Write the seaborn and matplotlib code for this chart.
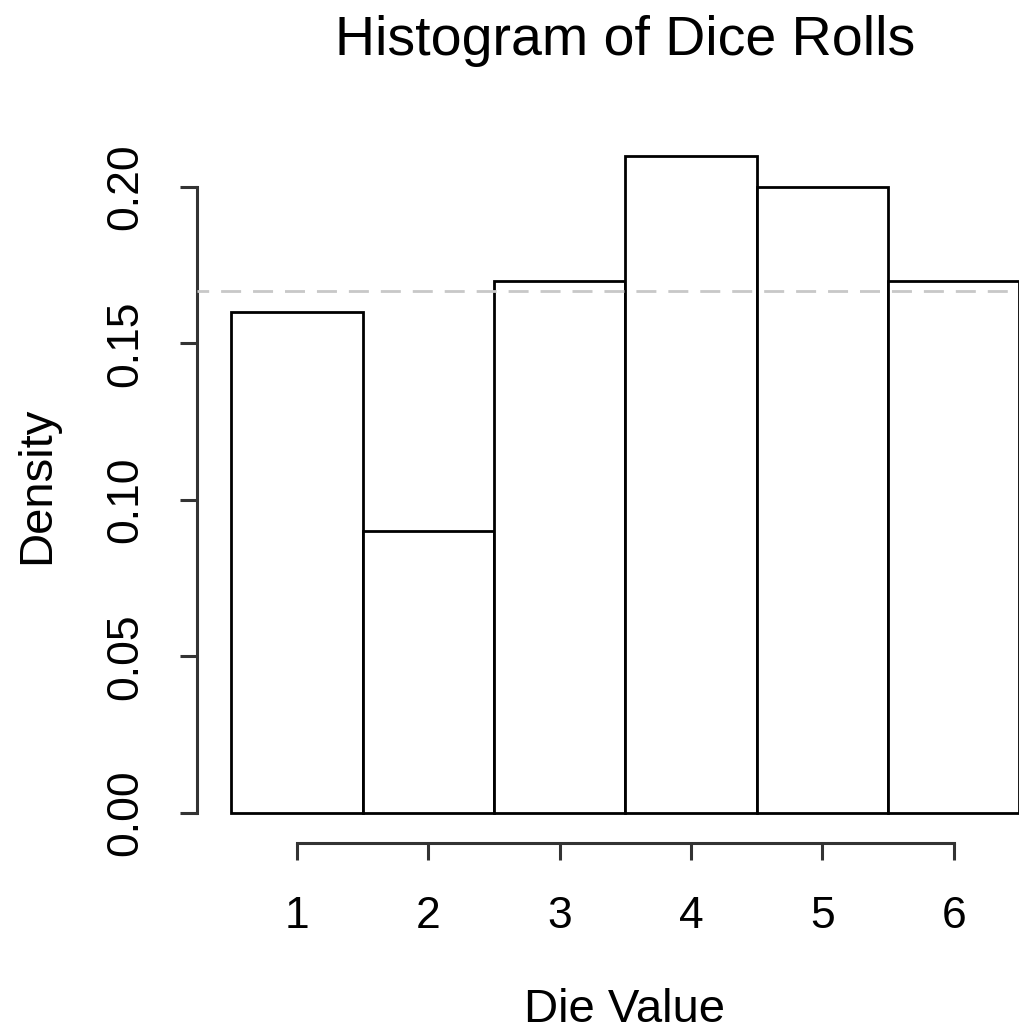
import matplotlib
matplotlib.use("Agg")
import matplotlib.pyplot as plt
import seaborn as sns

# dice roll counts (100 rolls)
die_values = [1, 2, 3, 4, 5, 6]
roll_counts = [16, 9, 17, 21, 20, 17]
x_ticks = [1, 2, 3, 4, 5, 6]
y_ticks = [0.00, 0.05, 0.10, 0.15, 0.20]
y_tick_labels = ["0.00", "0.05", "0.10", "0.15", "0.20"]
expected_density = 1 / 6

sns.set_style("white")
plt.rcParams["font.family"] = ["Liberation Sans", "DejaVu Sans"]
plt.rcParams["text.color"] = "black"

W, H = 1019, 1032
fig = plt.figure(figsize=(W / 100, H / 100), dpi=100)
# axes box in pixels: left 197, right 1051, top 129, bottom 843
ax = fig.add_axes([197 / W, (H - 843) / H, 854 / W, 714 / H])

sns.histplot(x=die_values, weights=roll_counts, discrete=True, stat="density",
             color="white", edgecolor="black", linewidth=2.0, alpha=1, ax=ax)
ax.axhline(expected_density, color="#c8c8c8", ls=(3, (7.2, 4.3)), lw=2, zorder=5)

ax.set_xlim(0.239, 6.74)
ax.set_ylim(-0.0096, 0.2185)

for side in ["top", "right"]:
    ax.spines[side].set_visible(False)
ax.spines["left"].set_bounds(0, 0.2)
ax.spines["bottom"].set_bounds(1, 6)
for side in ["left", "bottom"]:
    ax.spines[side].set_linewidth(2.2)
    ax.spines[side].set_color("#333333")

ax.set_xticks(x_ticks)
ax.set_yticks(y_ticks)
ax.set_yticklabels(y_tick_labels)
ax.tick_params(axis="both", direction="out", length=12.2, width=2.2, color="#333333",
               labelsize=32, labelcolor="black", bottom=True, left=True)
ax.tick_params(axis="x", pad=26)
ax.tick_params(axis="y", pad=24)
for lab in ax.get_yticklabels():
    lab.set_rotation(90)
    lab.set_va("center")

ax.set_xlabel("")
ax.set_ylabel("")
fig.text(625 / W, 1 - 55 / H, "Histogram of Dice Rolls", ha="center", va="baseline", fontsize=40)
fig.text(625 / W, 1 - 1010 / H, "Die Value", ha="center", va="center", fontsize=34)
fig.text(37 / W, 1 - 485 / H, "Density", ha="center", va="center", rotation=90, fontsize=34)

fig.savefig("out.png", dpi=100)
